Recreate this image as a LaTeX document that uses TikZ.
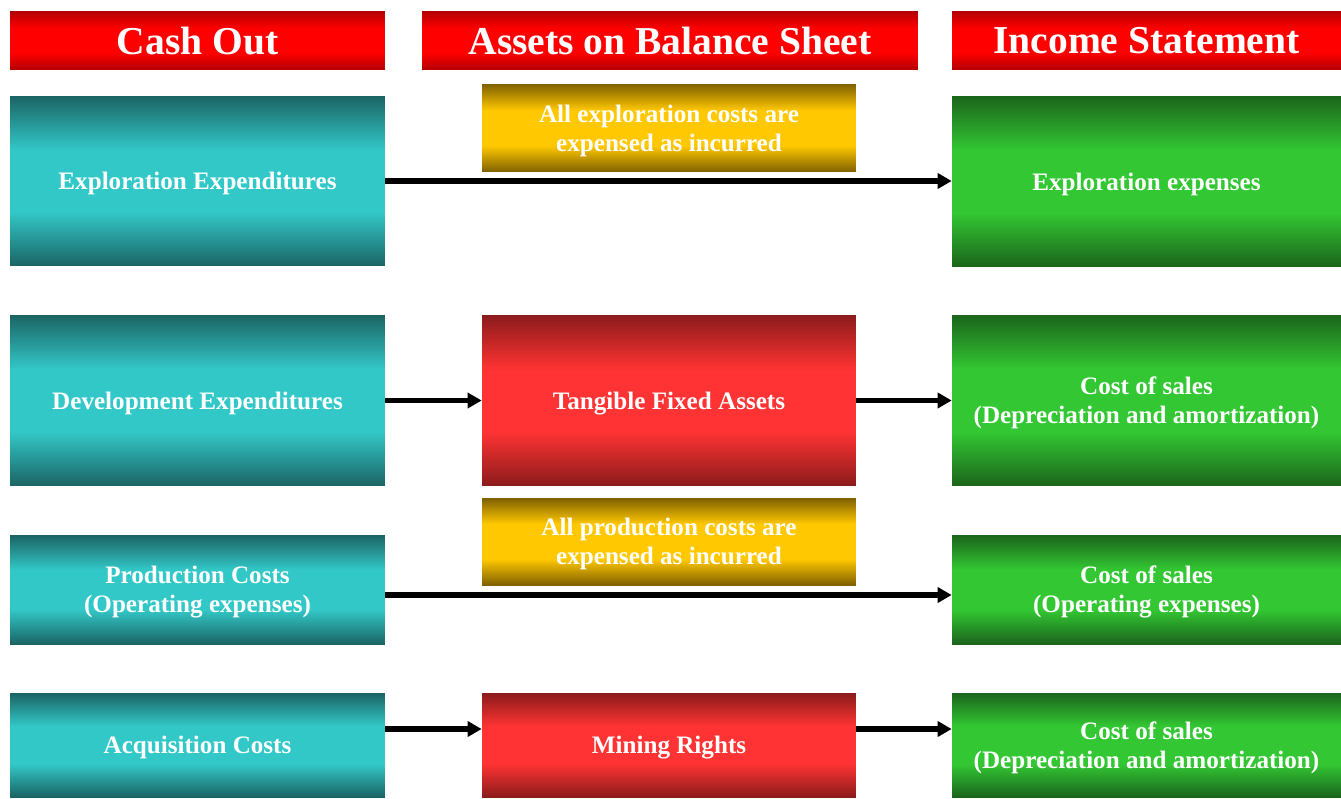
\documentclass[tikz,border=0pt]{standalone}
\usepackage{fontspec}
\setmainfont{Liberation Serif}
\usetikzlibrary{positioning,arrows.meta,calc}
\definecolor{headedge}{RGB}{180,0,0}
\definecolor{headmid}{RGB}{255,0,0}
\definecolor{tealedge}{RGB}{27,100,100}
\definecolor{tealmid}{RGB}{51,200,200}
\definecolor{greenedge}{RGB}{27,100,27}
\definecolor{greenmid}{RGB}{51,200,51}
\definecolor{rededge}{RGB}{140,27,27}
\definecolor{redmid}{RGB}{255,51,51}
\definecolor{goldedge}{RGB}{128,96,0}
\definecolor{goldmid}{RGB}{255,200,0}
\pgfdeclareverticalshading{headband}{100bp}{color(0bp)=(headedge); color(25bp)=(headedge); color(40bp)=(headmid); color(60bp)=(headmid); color(75bp)=(headedge); color(100bp)=(headedge)}
\pgfdeclareverticalshading{tealband}{100bp}{color(0bp)=(tealedge); color(25bp)=(tealedge); color(41bp)=(tealmid); color(59bp)=(tealmid); color(75bp)=(tealedge); color(100bp)=(tealedge)}
\pgfdeclareverticalshading{greenband}{100bp}{color(0bp)=(greenedge); color(25bp)=(greenedge); color(41bp)=(greenmid); color(59bp)=(greenmid); color(75bp)=(greenedge); color(100bp)=(greenedge)}
\pgfdeclareverticalshading{redband}{100bp}{color(0bp)=(rededge); color(25bp)=(rededge); color(41bp)=(redmid); color(59bp)=(redmid); color(75bp)=(rededge); color(100bp)=(rededge)}
\pgfdeclareverticalshading{goldband}{100bp}{color(0bp)=(goldedge); color(25bp)=(goldedge); color(40bp)=(goldmid); color(60bp)=(goldmid); color(75bp)=(goldedge); color(100bp)=(goldedge)}
\tikzset{
  costarr/.style={-{Triangle[length=2.8mm,width=3mm]},line width=3.2pt},
  headbox/.style={shading=headband,text=white,inner sep=0pt,minimum height=1.18cm,
                  text depth=0pt,font=\fontsize{22.5}{26}\selectfont\bfseries},
  flowbox/.style={text=white,inner sep=0pt,align=center,text depth=0pt,
                  font=\fontsize{14.3}{16.5}\selectfont\bfseries},
  cashbox/.style={flowbox,shading=tealband,minimum width=7.5cm},
  assetbox/.style={flowbox,shading=redband,minimum width=7.48cm},
  notebox/.style={flowbox,shading=goldband,minimum width=7.48cm},
  incomebox/.style={flowbox,shading=greenband,minimum width=7.78cm}
}
\begin{document}
\begin{tikzpicture}[x=0.02cm,y=-0.02cm]
\useasboundingbox (0,0) rectangle (1341,798);
\node[headbox, minimum width=7.5cm]  (cashhd)   at (197.5,40.5)  {Cash Out};
\node[headbox, minimum width=9.92cm] (assethd)  at (670,40.5)    {Assets on Balance Sheet};
\node[headbox, minimum width=7.78cm] (incomehd) at (1146.5,40.5) {Income Statement};

\node[cashbox, minimum height=3.4cm]    (explor)  at (197.5,181)  {Exploration Expenditures};
\node[notebox, minimum height=1.76cm]   (explnote) at (669,128)   {All exploration costs are\\expensed as incurred};
\node[incomebox, minimum height=3.42cm] (explexp) at (1146.5,181.5) {Exploration expenses};

\node[cashbox, minimum height=3.42cm]   (devel)   at (197.5,400.5) {Development Expenditures};
\node[assetbox, minimum height=3.42cm]  (tangible) at (669,400.5)  {Tangible Fixed Assets};
\node[incomebox, minimum height=3.42cm] (devcos)  at (1146.5,400.5) {Cost of sales\\(Depreciation and amortization)};

\node[notebox, minimum height=1.74cm]   (prodnote) at (669,541.5)  {All production costs are\\expensed as incurred};
\node[cashbox, minimum height=2.18cm]   (prod)    at (197.5,589.5) {Production Costs\\(Operating expenses)};
\node[incomebox, minimum height=2.18cm] (prodcos) at (1146.5,589.5) {Cost of sales\\(Operating expenses)};

\node[cashbox, minimum height=2.08cm]   (acq)     at (197.5,745)  {Acquisition Costs};
\node[assetbox, minimum height=2.08cm]  (rights)  at (669,745)    {Mining Rights};
\node[incomebox, minimum height=2.08cm] (acqcos)  at (1146.5,745) {Cost of sales\\(Depreciation and amortization)};

\draw[costarr] (explor.east) -- (explor.east -| explexp.west);
\draw[costarr] (devel) -- (tangible);
\draw[costarr] (tangible) -- (devcos);
\draw[costarr] ([yshift=-0.11cm]prod.east) -- ([yshift=-0.11cm]prod.east -| prodcos.west);
\draw[costarr] ([yshift=0.32cm]acq.east) -- ([yshift=0.32cm]acq.east -| rights.west);
\draw[costarr] ([yshift=0.32cm]rights.east) -- ([yshift=0.32cm]rights.east -| acqcos.west);
\end{tikzpicture}
\end{document}
